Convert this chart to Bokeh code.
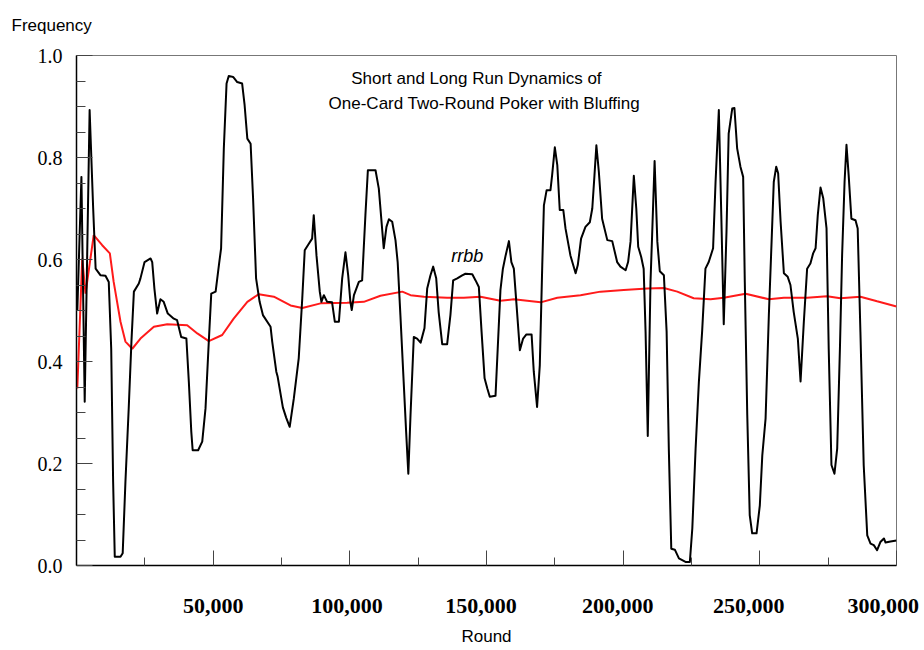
from bokeh.plotting import figure
from bokeh.models import Range1d, FixedTicker, NumeralTickFormatter, Label, Title
from bokeh.embed import file_html
from bokeh.resources import INLINE

# Short-run frequency of rrbb (black)
short_round = [300, 1800, 3000, 4800, 6100, 7000, 8800, 10600, 11800, 12700, 13400, 14000,
               16100, 16900, 17900, 19100, 20100, 21000, 22800, 23400, 24900, 27100, 27700,
               28500, 29500, 30700, 31900, 33400, 35600, 36800, 38300, 40200, 41100, 42000,
               42500, 44500, 46000, 47200, 48400, 49300, 50900, 52100, 52900, 53900, 54900,
               55700, 57300, 58800, 60600, 61500, 62500, 63700, 64600, 65700, 67000, 68200,
               71000, 71600, 73100, 73600, 75500, 76700, 78000, 79500, 81300, 82600, 83500,
               85000, 86200, 86800, 87800, 89000, 89600, 90500, 91700, 93500, 94500, 96000,
               97200, 98400, 99400, 100200, 100700, 101500, 103300, 104500, 105700, 106600,
               109400, 110600, 112400, 113400, 114300, 115500, 116700, 117500, 118500, 119700,
               120600, 121400, 122200, 123400, 124600, 125900, 127300, 128300, 129500, 130500,
               131600, 132500, 133800, 135600, 136800, 137800, 139300, 141100, 142300, 144800,
               146000, 147200, 148200, 149300, 150300, 151200, 153300, 154100, 155100, 156000,
               157000, 158200, 159100, 160000, 161000, 162200, 163400, 164600, 166500, 167300,
               168500, 169500, 170400, 171000, 172000, 173400, 174000, 175000, 175900, 176800,
               178100, 178900, 180700, 182600, 183400, 184600, 186200, 187800, 188700, 189500,
               190200, 191100, 192300, 194200, 196000, 197800, 199000, 200900, 201800, 202700,
               203900, 204800, 205500, 206600, 207500, 208200, 209000, 210000, 210600, 211500,
               212500, 213400, 214900, 215900, 216700, 217600, 218900, 220400, 222800, 224400,
               225300, 226500, 227700, 228900, 230100, 231300, 232900, 233800, 235000, 235900,
               236800, 237800, 238600, 239900, 240700, 241700, 242900, 243900, 244500, 245400,
               246300, 247200, 248800, 250000, 250900, 252100, 253300, 254300, 255100, 256000,
               256700, 257600, 258800, 260200, 261200, 262400, 263900, 264900, 266100, 267300,
               268500, 269500, 270400, 271200, 272200, 273200, 274400, 275200, 276200, 277300,
               278300, 279300, 280100, 281000, 281700, 282500, 283500, 285000, 285800, 286800,
               288000, 289300, 290500, 291700, 292900, 294100, 295400, 296000, 297800, 300000]
short_freq = [0.50, 0.762, 0.321, 0.893, 0.70, 0.582, 0.569, 0.568, 0.556, 0.425, 0.164, 0.017,
              0.017, 0.024, 0.164, 0.308, 0.439, 0.537, 0.553, 0.563, 0.595, 0.602, 0.595,
              0.543, 0.494, 0.522, 0.517, 0.494, 0.484, 0.481, 0.448, 0.445, 0.36, 0.262,
              0.226, 0.226, 0.243, 0.308, 0.439, 0.533, 0.537, 0.589, 0.622, 0.818, 0.945,
              0.96, 0.958, 0.948, 0.945, 0.903, 0.837, 0.827, 0.72, 0.563, 0.517, 0.491,
              0.468, 0.439, 0.38, 0.37, 0.31, 0.29, 0.272, 0.327, 0.406, 0.524, 0.618,
              0.631, 0.641, 0.687, 0.608, 0.537, 0.517, 0.53, 0.517, 0.516, 0.478, 0.478,
              0.563, 0.614, 0.569, 0.517, 0.501, 0.53, 0.556, 0.559, 0.687, 0.775,
              0.775, 0.739, 0.622, 0.664, 0.679, 0.674, 0.638, 0.595, 0.491, 0.36,
              0.262, 0.18, 0.295, 0.448, 0.445, 0.437, 0.465, 0.543, 0.569, 0.586,
              0.563, 0.497, 0.434, 0.434, 0.491, 0.559, 0.563, 0.569, 0.572, 0.571,
              0.559, 0.546, 0.458, 0.367, 0.347, 0.331, 0.333, 0.425, 0.54, 0.582,
              0.608, 0.636, 0.595, 0.582, 0.51, 0.422, 0.445, 0.453, 0.453, 0.38,
              0.311, 0.393, 0.589, 0.706, 0.736, 0.736, 0.765, 0.82, 0.785, 0.697,
              0.697, 0.661, 0.608, 0.573, 0.589, 0.641, 0.664, 0.673, 0.70, 0.765,
              0.824, 0.772, 0.68, 0.638, 0.636, 0.595, 0.586, 0.579, 0.595, 0.635,
              0.764, 0.70, 0.625, 0.605, 0.582, 0.458, 0.254, 0.556, 0.648, 0.793,
              0.635, 0.577, 0.569, 0.458, 0.229, 0.033, 0.031, 0.014, 0.007, 0.007,
              0.073, 0.229, 0.36, 0.46, 0.582, 0.595, 0.622, 0.752, 0.893, 0.687,
              0.473, 0.654, 0.847, 0.896, 0.897, 0.818, 0.782, 0.762, 0.556, 0.295,
              0.099, 0.063, 0.063, 0.118, 0.216, 0.288, 0.491, 0.635, 0.752, 0.782,
              0.769, 0.674, 0.573, 0.566, 0.55, 0.497, 0.445, 0.361, 0.478, 0.582,
              0.592, 0.612, 0.622, 0.687, 0.741, 0.72, 0.661, 0.425, 0.197, 0.18,
              0.229, 0.425, 0.608, 0.752, 0.825, 0.765, 0.68, 0.677, 0.661, 0.458,
              0.197, 0.059, 0.043, 0.04, 0.03, 0.046, 0.053, 0.045, 0.047, 0.049]

# Long-run (cumulative) frequency (red)
long_round = [300, 2100, 3300, 6300, 9400, 12200, 13600, 16100, 17900, 20400, 23400, 28300,
              33200, 40500, 44200, 48400, 53300, 57500, 62500, 66700, 72200, 78300, 82600,
              89300, 99000, 105100, 111200, 119200, 122200, 127100, 135600, 141700, 147800,
              155100, 160000, 169800, 175900, 184400, 191700, 200200, 208800, 214900, 219800,
              225800, 232000, 236800, 244800, 253300, 258800, 267300, 274600, 279500, 286800,
              292900, 300000]
long_freq = [0.347, 0.602, 0.533, 0.648, 0.628, 0.612, 0.556, 0.478, 0.439, 0.425, 0.445, 0.468,
             0.473, 0.471, 0.455, 0.44, 0.452, 0.484, 0.517, 0.532, 0.527, 0.51, 0.505,
             0.514, 0.515, 0.517, 0.529, 0.537, 0.53, 0.527, 0.525, 0.525, 0.527,
             0.519, 0.522, 0.516, 0.525, 0.53, 0.537, 0.54, 0.543, 0.544, 0.537,
             0.524, 0.522, 0.525, 0.533, 0.522, 0.525, 0.525, 0.528, 0.524, 0.527,
             0.518, 0.508]

x_major = [50000, 100000, 150000, 200000, 250000, 300000]
x_minor = [25000, 75000, 125000, 175000, 225000, 275000]
# tick labels as printed (the original sets them slightly left of their ticks)
x_labels = ["50,000", "100,000\u00a0", "150,000\u00a0\u00a0", "200,000\u00a0\u00a0",
            "250,000\u00a0\u00a0\u00a0\u00a0", "300,000\u00a0"]
y_major = [0.0, 0.2, 0.4, 0.6, 0.8, 1.0]
y_minor = [0.05, 0.1, 0.15, 0.25, 0.3, 0.35, 0.45, 0.5, 0.55, 0.65, 0.7, 0.75, 0.85, 0.9, 0.95]

title_lines = ["Short and Long Run Dynamics of", "One-Card Two-Round Poker with Bluffing"]

sans = "Liberation Sans"

p = figure(width=924, height=650, output_backend="svg", toolbar_location=None,
           x_range=Range1d(0, 300000), y_range=Range1d(0, 1),
           min_border_left=76, min_border_right=28, min_border_top=55, min_border_bottom=85)
p.xgrid.visible = False
p.ygrid.visible = False
p.outline_line_color = "#777777"
p.outline_line_width = 1
p.background_fill_color = "white"
p.border_fill_color = "white"

# "Frequency" as a left-aligned title over the y axis (blank second line lifts it)
p.title.text = "Frequency\n\u00a0"
p.title.align = "left"
p.title.vertical_align = "top"
p.title.standoff = 0
p.title.offset = -65
p.title.text_font = sans
p.title.text_font_size = "17px"
p.title.text_font_style = "normal"
p.title.text_color = "black"

# "Round" as a centred title under the x axis
p.add_layout(Title(text="Round", align="center", vertical_align="bottom", standoff=8,
                   text_font=sans, text_font_size="17px", text_font_style="normal",
                   text_color="black"), "below")

p.xaxis.ticker = FixedTicker(ticks=x_major, minor_ticks=x_minor)
p.yaxis.ticker = FixedTicker(ticks=y_major, minor_ticks=y_minor)
p.xaxis.major_label_overrides = {t: s for t, s in zip(x_major, x_labels)}
p.yaxis.formatter = NumeralTickFormatter(format="0.0")

for ax in (p.xaxis, p.yaxis):
    ax.axis_line_color = "black"
    ax.axis_line_width = 1.5
    ax.major_tick_line_color = "#444444"
    ax.minor_tick_line_color = "#444444"
    ax.major_tick_out = 0
    ax.minor_tick_out = 0

p.xaxis.major_tick_in = 15
p.xaxis.minor_tick_in = 8
p.yaxis.major_tick_in = 16
p.yaxis.minor_tick_in = 9

p.xaxis.major_label_text_font = "Liberation Serif"
p.xaxis.major_label_text_font_style = "bold"
p.xaxis.major_label_text_font_size = "22px"
p.xaxis.major_label_text_color = "black"
p.xaxis.major_label_standoff = 27

p.yaxis.major_label_text_font = "Liberation Serif"
p.yaxis.major_label_text_font_size = "20px"
p.yaxis.major_label_text_color = "black"
p.yaxis.major_label_standoff = 14

p.line(long_round, long_freq, line_color="#ff1a1a", line_width=2)
p.line(short_round, short_freq, line_color="black", line_width=2, line_join="round")

p.add_layout(Label(x=146300, y=0.955, text=title_lines[0], text_align="center",
                   text_baseline="alphabetic", text_font=sans, text_font_size="17px",
                   text_color="black"))
p.add_layout(Label(x=149200, y=0.906, text=title_lines[1], text_align="center",
                   text_baseline="alphabetic", text_font=sans, text_font_size="17px",
                   text_color="black"))
p.add_layout(Label(x=143000, y=0.607, text="rrbb", text_align="center",
                   text_baseline="alphabetic", text_font=sans, text_font_size="18px",
                   text_font_style="italic", text_color="black"))

open("out.html", "w").write(file_html(p, INLINE))
